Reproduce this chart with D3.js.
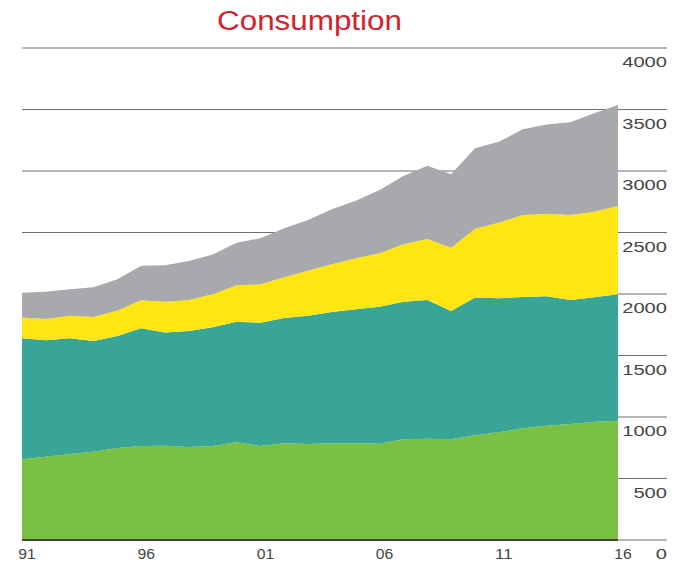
<!DOCTYPE html>
<html>
<head>
<meta charset="utf-8">
<script src="https://cdn.jsdelivr.net/npm/d3@7"></script>
<style>
  html, body { margin: 0; padding: 0; background: #fff; }
  svg { display: block; }
  text { font-family: "Liberation Sans", Arial, sans-serif; }
</style>
</head>
<body>
<svg id="chart" width="677" height="562"></svg>
<script>
// ---- data ----
const years = [1991,1992,1993,1994,1995,1996,1997,1998,1999,2000,2001,2002,2003,
               2004,2005,2006,2007,2008,2009,2010,2011,2012,2013,2014,2015,2016];
const layer1 = [656,677,699,718,748,764,767,756,764,794,764,786,780,
                786,786,783,819,824,819,851,876,908,929,943,962,970];
const layer2 = [984,946,941,900,911,957,921,943,965,981,1003,1019,1044,
                1068,1090,1114,1119,1127,1043,1121,1089,1068,1052,1008,1011,1027];
const layer3 = [168,174,184,195,206,228,250,252,268,296,312,331,366,
                387,414,434,466,496,515,559,615,666,672,691,696,718];
const layer4 = [203,222,214,241,254,281,295,317,325,346,374,398,412,
                448,469,515,555,596,596,653,658,697,726,754,800,822];
const yTicks = [0,500,1000,1500,2000,2500,3000,3500,4000];
const xTicks = [1991,1996,2001,2006,2011,2016];
const title = "Consumption";

// ---- build ----
const keys = ["layer1","layer2","layer3","layer4"];
const colors = {layer1:"#7ac143", layer2:"#39a597", layer3:"#ffe512", layer4:"#a7a9ac"};
const rows = years.map((y,i) => ({year:y, layer1:layer1[i], layer2:layer2[i], layer3:layer3[i], layer4:layer4[i]}));
const series = d3.stack().keys(keys)(rows);

const svg = d3.select("#chart");
const x = d3.scaleLinear().domain([1991, 2016]).range([22, 618]);
const y = d3.scaleLinear().domain([0, 4000]).range([540, 48]);

// gridlines
svg.append("g").selectAll("line").data(yTicks).join("line")
  .attr("x1", 22).attr("x2", 667)
  .attr("y1", d => y(d)).attr("y2", d => y(d))
  .attr("stroke", "#6d6e70").attr("stroke-width", 1.2);

// areas
const area = d3.area()
  .x(d => x(d.data.year))
  .y0(d => y(d[0]))
  .y1(d => y(d[1]));
svg.append("g").selectAll("path").data(series).join("path")
  .attr("d", area)
  .attr("fill", d => colors[d.key]);

// baseline under areas
svg.append("line")
  .attr("x1", x(1991)).attr("x2", x(2016))
  .attr("y1", y(0)).attr("y2", y(0))
  .attr("stroke", "#231f20").attr("stroke-width", 1.4);

// y labels (right side, below the gridline)
svg.append("g").selectAll("text").data(yTicks).join("text")
  .attr("x", 667).attr("y", d => y(d) + 19)
  .attr("text-anchor", "end")
  .attr("font-size", 14)
  .attr("fill", "#444")
  .attr("textLength", d => String(d).length * 11.2)
  .attr("lengthAdjust", "spacingAndGlyphs")
  .text(d => d);

// x labels
svg.append("g").selectAll("text").data(xTicks).join("text")
  .attr("x", d => x(d) + 5).attr("y", 559)
  .attr("text-anchor", "middle")
  .attr("font-size", 14)
  .attr("fill", "#444")
  .attr("textLength", 17.5)
  .attr("lengthAdjust", "spacingAndGlyphs")
  .text(d => String(d).slice(2));

// title
svg.append("text")
  .attr("x", 217).attr("y", 30)
  .attr("font-size", 27)
  .attr("fill", "#d2232a")
  .attr("textLength", 185)
  .attr("lengthAdjust", "spacingAndGlyphs")
  .text(title);
</script>
</body>
</html>
